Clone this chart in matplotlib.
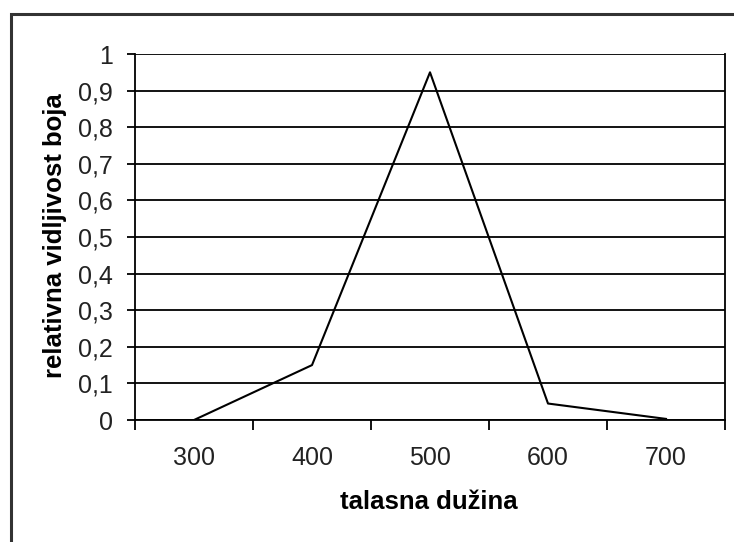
import matplotlib.pyplot as plt
from matplotlib.patches import Rectangle
import numpy as np

# talasne duzine (nm) i relativna vidljivost
talasna_duzina = ["300", "400", "500", "600", "700"]
vidljivost = [0.0, 0.15, 0.95, 0.045, 0.003]
y_oznake = ["0", "0,1", "0,2", "0,3", "0,4", "0,5", "0,6", "0,7", "0,8", "0,9", "1"]

plt.rcParams['font.family'] = ['Liberation Sans', 'DejaVu Sans']

W, H = 734, 542
fig = plt.figure(figsize=(W / 100, H / 100), dpi=100)

# okvir oko cijelog grafikona
fig.patches.append(Rectangle((11 / W, -0.1), 1.2, 1 - 14 / H + 0.1,
                             transform=fig.transFigure, fill=False,
                             edgecolor='#333333', linewidth=2.2))

ax = fig.add_axes([135 / W, 1 - 420 / H, (725 - 135) / W, (420 - 54) / H])

x = np.arange(len(talasna_duzina))
ax.plot(x, vidljivost, color='black', linewidth=1.5)

ax.set_xlim(-0.5, len(talasna_duzina) - 0.5)
ax.set_ylim(0, 1)

# horizontalne linije mreze
yt = np.linspace(0, 1, len(y_oznake))
for v in yt:
    ax.axhline(v, color='black', linewidth=1.3, zorder=0)

ax.set_yticks(yt)
ax.set_yticklabels(y_oznake)
ax.tick_params(axis='y', length=6, width=1.3, pad=10, labelsize=18,
               labelcolor='#222222')

# kategorije: oznake u sredini, crtice na granicama
ax.set_xticks(x)
ax.set_xticklabels(talasna_duzina)
ax.set_xticks(np.arange(-0.5, len(talasna_duzina)), minor=True)
ax.tick_params(axis='x', which='major', length=0, pad=19, labelsize=18,
               labelcolor='#222222')
ax.tick_params(axis='x', which='minor', length=7, width=1.3)

for s in ['left', 'bottom', 'right']:
    ax.spines[s].set_linewidth(1.3)
ax.spines['top'].set_visible(False)

ax.set_xlabel("talasna dužina", fontsize=18.5, fontweight='bold')
ax.set_ylabel("relativna vidljivost boja", fontsize=18.5, fontweight='bold')
ax.xaxis.set_label_coords(0.498, -0.224)
ax.xaxis.label.set_va('center')
ax.yaxis.set_label_coords(-0.1356, 0.503)
ax.yaxis.label.set_va('center')

fig.savefig("out.png", dpi=100)
